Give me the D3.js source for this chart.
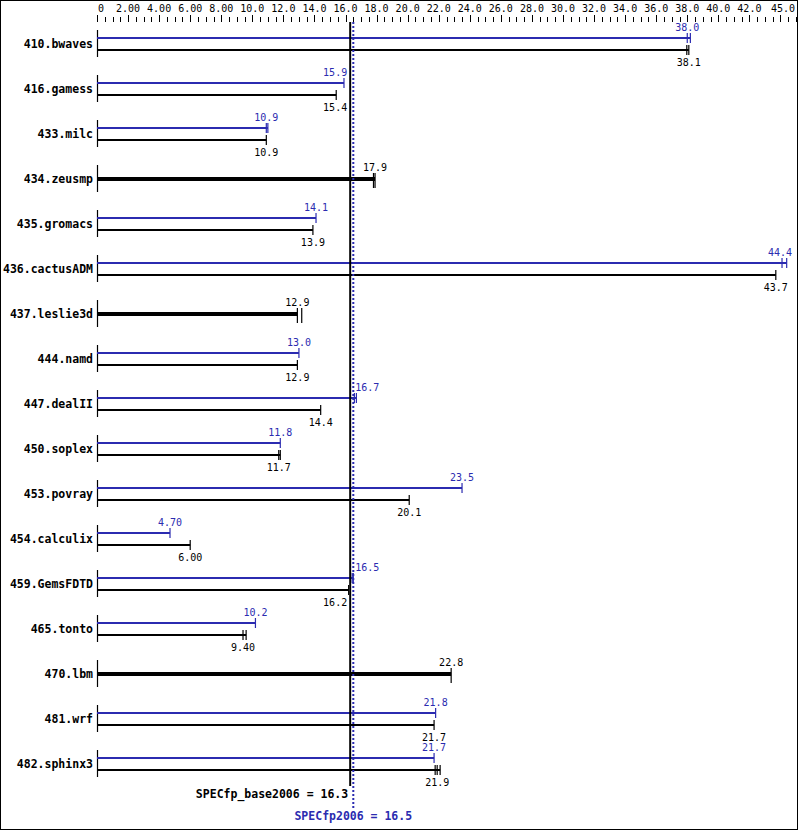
<!DOCTYPE html>
<html><head><meta charset="utf-8">
<script src="https://cdn.jsdelivr.net/npm/d3@7"></script>
<style>body{margin:0;background:#fff}svg{display:block}</style>
</head><body>
<svg id="c" width="799" height="831"></svg>
<script>
const benchmarks = ["410.bwaves","416.gamess","433.milc","434.zeusmp","435.gromacs","436.cactusADM","437.leslie3d","444.namd","447.dealII","450.soplex","453.povray","454.calculix","459.GemsFDTD","465.tonto","470.lbm","481.wrf","482.sphinx3"];
const peakValues = [38.0,15.9,10.9,17.9,14.1,44.4,12.9,13.0,16.7,11.8,23.5,4.70,16.5,10.2,22.8,21.8,21.7];
const baseValues = [38.1,15.4,10.9,17.9,13.9,43.7,12.9,12.9,14.4,11.7,20.1,6.00,16.2,9.40,22.8,21.7,21.9];
// base-only (peak == base, single thick bar)
const singleBar = [false,false,false,true,false,false,true,false,false,false,false,false,false,false,true,false,false];
// extra run ticks
const peakExtra = [[38.2],[],[11.0],[],[],[44.1],[],[],[16.57],[],[],[],[16.43],[],[],[],[]];
const baseExtra = [[37.97],[],[],[17.8],[],[],[13.18],[],[],[11.8],[],[],[],[9.6],[],[],[21.77,22.09]];
const axisTicks = d3.range(0, 45.01, 2).concat([45]);
const minorTicks = d3.range(0, 45.01, 0.5);
const specBase = 16.3, specPeak = 16.5;

const svg = d3.select("#c");
const blue = "#2b2bb0";
const x = d3.scaleLinear().domain([0,45]).range([97, 796]);
const y0 = 44, rowH = 45;
const yc = i => y0 + i*rowH;
const fmt = v => v === 0 ? "0" : d3.format(".3r")(v);
const mono = "'DejaVu Sans Mono', 'Liberation Mono', monospace";

// frame
svg.append("rect").attr("x",0.5).attr("y",0.5).attr("width",797).attr("height",829)
  .attr("fill","none").attr("stroke","#000");

// top axis ticks
const ax = svg.append("g");
ax.selectAll("line.minor").data(minorTicks).join("line")
  .attr("x1",d=>Math.round(x(d))+0.5).attr("x2",d=>Math.round(x(d))+0.5)
  .attr("y1",d=> (Math.abs(d/2-Math.round(d/2))<1e-9) ? 15 : 17).attr("y2",22)
  .attr("stroke","#000");
ax.selectAll("text").data(axisTicks.filter(d=>d!==44)).join("text")
  .attr("x",d=>d===0? x(d)+1 : d===45 ? x(d)-1 : x(d))
  .attr("y",12)
  .attr("text-anchor",d=>d===0?"start":d===45?"end":"middle")
  .attr("font-family",mono).attr("font-size","10px").attr("fill","#000")
  .text(d=>fmt(d));

const bx = x(specBase), px = x(specPeak);

const rows = svg.append("g");
benchmarks.forEach((b,i)=>{
  const c = yc(i);
  const g = rows.append("g");
  g.append("text").attr("x",93).attr("y",c+4).attr("text-anchor","end")
    .attr("font-family",mono).attr("font-weight","bold").attr("font-size","11.5px")
    .text(b);
  g.append("line").attr("x1",97.5).attr("x2",97.5).attr("y1",c-14).attr("y2",c+13)
    .attr("stroke","#000").attr("stroke-width",1.2);
  const place = (v, color, anchorY) => {
    let xx = x(v), anchor = "middle";
    const w = fmt(v).length*6.02;
    if (xx - w/2 < px+3 && xx + w/2 > bx-3) {
      if (v < specBase) { xx = bx-3; anchor="end"; } else { xx = px+2; anchor="start"; }
    }
    if (anchor === "middle" && xx + w/2 > 792) { xx = 792; anchor = "end"; }
    g.append("text").attr("x",xx).attr("y",anchorY).attr("text-anchor",anchor)
      .attr("font-family",mono).attr("font-size","10px").attr("fill",color).text(fmt(v));
  };
  if (singleBar[i]) {
    const v = baseValues[i];
    g.append("line").attr("x1",x(0)).attr("x2",x(v)).attr("y1",c).attr("y2",c)
      .attr("stroke","#000").attr("stroke-width",4);
    [v].concat(baseExtra[i]).forEach(t=>{
      g.append("line").attr("x1",x(t)).attr("x2",x(t)).attr("y1",c-6).attr("y2",c+9)
        .attr("stroke","#000").attr("stroke-width",1.2);
    });
    place(v, "#000", c-8);
  } else {
    const pv = peakValues[i], bv = baseValues[i];
    const pe = [pv].concat(peakExtra[i]), be = [bv].concat(baseExtra[i]);
    g.append("line").attr("x1",x(0)).attr("x2",x(d3.max(pe))).attr("y1",c-6).attr("y2",c-6)
      .attr("stroke",blue).attr("stroke-width",2);
    pe.forEach(t=>{
      g.append("line").attr("x1",x(t)).attr("x2",x(t)).attr("y1",c-11).attr("y2",c-1)
        .attr("stroke",blue).attr("stroke-width",1.2);
    });
    g.append("line").attr("x1",x(0)).attr("x2",x(d3.max(be))).attr("y1",c+6).attr("y2",c+6)
      .attr("stroke","#000").attr("stroke-width",2);
    be.forEach(t=>{
      g.append("line").attr("x1",x(t)).attr("x2",x(t)).attr("y1",c+1).attr("y2",c+11)
        .attr("stroke","#000").attr("stroke-width",1.2);
    });
    place(pv, blue, c-13);
    place(bv, "#000", c+22);
  }
});

// reference lines
svg.append("line").attr("x1",bx).attr("x2",bx).attr("y1",22).attr("y2",786)
  .attr("stroke","#000").attr("stroke-width",2);
svg.append("line").attr("x1",px).attr("x2",px).attr("y1",22).attr("y2",808)
  .attr("stroke",blue).attr("stroke-width",2).attr("stroke-dasharray","2,2");

svg.append("text").attr("x",bx-2).attr("y",798).attr("text-anchor","end")
  .attr("font-family",mono).attr("font-weight","bold").attr("font-size","11.5px")
  .attr("fill","#000").text("SPECfp_base2006 = " + fmt(specBase));
svg.append("text").attr("x",px).attr("y",820).attr("text-anchor","middle")
  .attr("font-family",mono).attr("font-weight","bold").attr("font-size","11.5px")
  .attr("fill",blue).text("SPECfp2006 = " + fmt(specPeak));
</script>
</body></html>
